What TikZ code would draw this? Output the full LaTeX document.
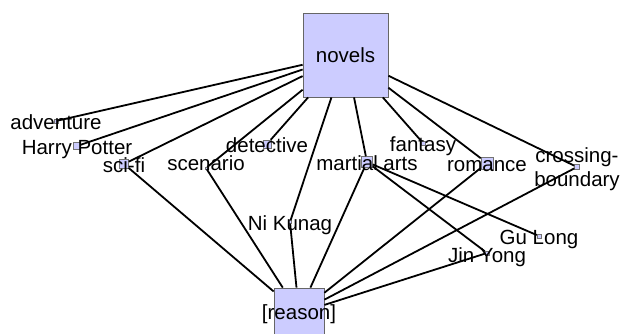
\documentclass[tikz,border=0pt]{standalone}
\usepackage{fontspec}
\setmainfont{Liberation Sans}
\definecolor{boxfill}{RGB}{204,204,255}
\tikzset{
    topic/.style={draw=black!60, fill=boxfill, line width=0.8pt, inner sep=0pt},
    leaf/.style={draw=black!55, fill=boxfill, line width=0.5pt, inner sep=0pt, minimum size=#1},
    leaf/.default=5pt,
    link/.style={line width=1.8pt, black},
    lbl/.style={anchor=base, yshift=-9pt, inner sep=0pt}
}

\begin{document}
\begin{tikzpicture}[x=1pt,y=-1pt,font=\fontsize{20.5}{24}\selectfont]
        \useasboundingbox (0,0) rectangle (622,334);

        % the two hubs
        \path (345.5,55) node[topic, minimum width=85pt, minimum height=84pt] (novels) {};
        \path (299,313) node[topic, minimum width=50pt, minimum height=50pt] (reason) {};

        % genres and authors
        \path (56,121)  node[leaf=4pt]  (adventure) {};
        \path (77,146)  node[leaf=7pt]  (harry) {};
        \path (124,164) node[leaf=9pt]  (scifi) {};
        \path (206,168) node[leaf=2pt]  (scenario) {};
        \path (267,144) node[leaf=8pt]  (detective) {};
        \path (367,162) node[leaf=11pt] (martial) {};
        \path (423,143) node[leaf=4pt]  (fantasy) {};
        \path (487,163) node[leaf=12pt] (romance) {};
        \path (577,167) node[leaf=5pt]  (crossing) {};
        \path (290,222) node[leaf=3pt]  (nikunag) {};
        \path (539,236) node[leaf=4pt]  (gulong) {};
        \path (487,253) node[leaf=4pt]  (jinyong) {};

        \foreach \N in {adventure,harry,scifi,scenario,detective,nikunag,martial,fantasy,romance,crossing} {
            \draw [link] (novels) -- (\N);
        }
        \foreach \N in {scifi,scenario,nikunag,martial,romance,crossing,jinyong} {
            \draw [link] (reason) -- (\N);
        }
        \foreach \N in {gulong,jinyong} {
            \draw [link] (martial) -- (\N);
        }

        % labels
        \path (novels) node (novels-t) {novels};
        \path (reason) node[yshift=-1pt] (reason-t) {[reason]};
        \path (adventure) node[lbl] (adventure-t) {adventure};
        \path (harry)     node[lbl] (harry-t) {Harry Potter};
        \path (scifi)     node[lbl] (scifi-t) {sci-fi};
        \path (scenario)  node[lbl, yshift=6pt] (scenario-t) {scenario};
        \path (detective) node[lbl] (detective-t) {detective};
        \path (martial)   node[lbl] (martial-t) {martial arts};
        \path (fantasy)   node[lbl] (fantasy-t) {fantasy};
        \path (romance)   node[lbl] (romance-t) {romance};
        \path (crossing)  node[align=center, inner sep=0pt, yshift=-2pt] (crossing-t) {crossing-\\boundary};
        \path (nikunag)   node[lbl] (nikunag-t) {Ni Kunag};
        \path (gulong)    node[lbl] (gulong-t) {Gu Long};
        \path (jinyong)   node[lbl] (jinyong-t) {Jin Yong};

\end{tikzpicture}
\end{document}
